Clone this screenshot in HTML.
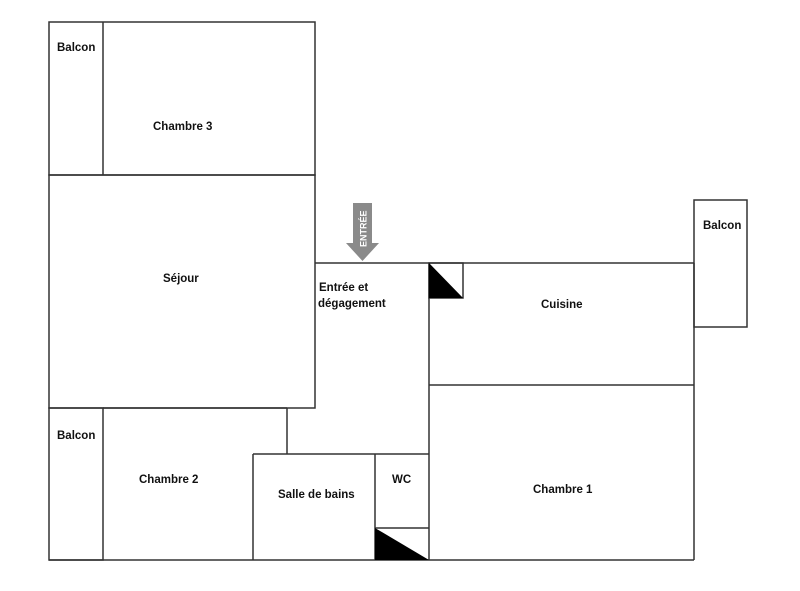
<!DOCTYPE html>
<html><head><meta charset="utf-8"><style>
html,body{margin:0;padding:0;background:#fff;}
svg{display:block}
text{font-family:"Liberation Sans",sans-serif;font-weight:bold;font-size:11.5px;fill:#111;}
</style></head><body>
<svg width="800" height="591" viewBox="0 0 800 591" xmlns="http://www.w3.org/2000/svg">
<g stroke="#333" stroke-width="1.5" fill="none">
<rect x="49" y="22" width="266" height="153"/>
<line x1="103" y1="22" x2="103" y2="175"/>
<rect x="49" y="175" width="266" height="233"/>
<rect x="49" y="408" width="54" height="152"/>
<line x1="49" y1="560" x2="694" y2="560"/>
<line x1="103" y1="408" x2="287" y2="408"/>
<line x1="287" y1="408" x2="287" y2="454"/>
<line x1="253" y1="454" x2="429" y2="454"/>
<line x1="253" y1="454" x2="253" y2="560"/>
<line x1="375" y1="454" x2="375" y2="560"/>
<line x1="375" y1="528" x2="429" y2="528"/>
<line x1="315" y1="263" x2="694" y2="263"/>
<line x1="429" y1="263" x2="429" y2="560"/>
<line x1="694" y1="263" x2="694" y2="560"/>
<line x1="429" y1="385" x2="694" y2="385"/>
<rect x="694" y="200" width="53" height="127"/>
<rect x="429" y="263" width="34" height="35"/>
</g>
<polygon points="429,263 463,298 429,298" fill="#000"/>
<polygon points="375,528 429,560 375,560" fill="#000"/>
<polygon points="353,203 372,203 372,243 379,243 362.5,261 346,243 353,243" fill="#8a8a8a"/>
<text transform="translate(366.5,247) rotate(-90)" style="fill:#fff;font-size:9px">ENTRÉE</text>
<text x="57" y="51">Balcon</text>
<text x="153" y="130">Chambre 3</text>
<text x="163" y="282">Séjour</text>
<text x="319" y="291">Entrée et</text>
<text x="318" y="307">dégagement</text>
<text x="541" y="308">Cuisine</text>
<text x="703" y="229">Balcon</text>
<text x="57" y="439">Balcon</text>
<text x="139" y="483">Chambre 2</text>
<text x="278" y="498">Salle de bains</text>
<text x="392" y="483">WC</text>
<text x="533" y="493">Chambre 1</text>
</svg>
</body></html>
